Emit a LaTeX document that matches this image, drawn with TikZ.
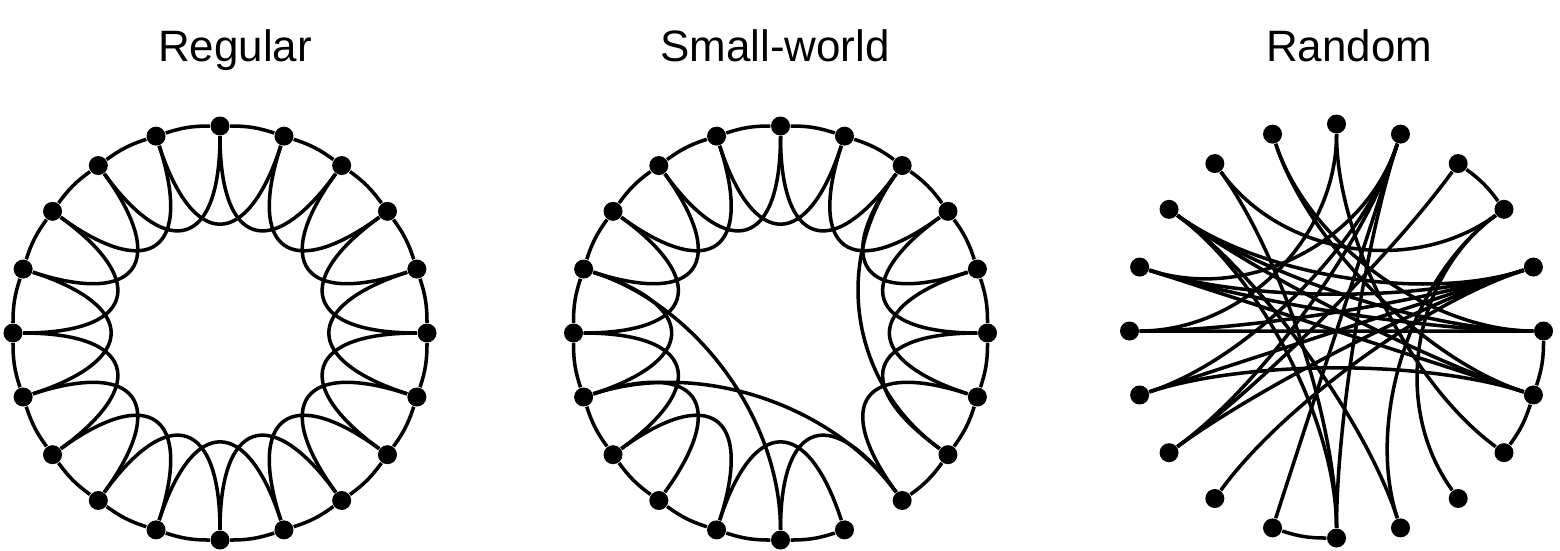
\documentclass[tikz,border=0pt]{standalone}
\usepackage{fontspec}
\setmainfont{Liberation Sans}
\usetikzlibrary{calc}

\tikzset{
  vertex/.style={circle,fill=black,inner sep=0pt,minimum size=0.19cm},
  edge/.style={line width=1pt},
  title/.style={font=\fontsize{12.5}{15}\selectfont,anchor=base}
}

\begin{document}
\begin{tikzpicture}
\useasboundingbox (0,0) rectangle (15.6,5.5);

% titles
\node[title] (treg) at (2.35,4.89) {Regular};
\node[title] (tsw) at (7.75,4.89) {Small-world};
\node[title] (trnd) at (13.49,4.89) {Random};

% centres of the three rings
\coordinate (rc) at (2.20,2.17);
\coordinate (sc) at (7.805,2.17);
\coordinate (nc) at (13.365,2.19);

% vertices, numbered clockwise from the top
\foreach \k in {0,...,19}{
  \node[vertex] (r\k) at ($(rc)+({90-18*\k}:2.07)$) {};
  \node[vertex] (s\k) at ($(sc)+({90-18*\k}:2.07)$) {};
  \node[vertex] (n\k) at ($(nc)+({90-18*\k}:2.07)$) {};
}

% regular ring
\foreach \k in {0,...,19}{
  \pgfmathtruncatemacro\a{mod(\k+1,20)}
  \pgfmathtruncatemacro\b{mod(\k+2,20)}
  \draw[edge] (r\k) to[bend left=9] (r\a);
  \draw[edge] (r\k) .. controls ($(r\k)!0.58!(rc)$) and ($(r\b)!0.58!(rc)$) .. (r\b);
}

% small-world ring
\foreach \k in {0,...,7,9,10,...,19}{
  \pgfmathtruncatemacro\a{mod(\k+1,20)}
  \draw[edge] (s\k) to[bend left=9] (s\a);
}
\foreach \k in {0,...,6,8,9,11,12,...,19}{
  \pgfmathtruncatemacro\b{mod(\k+2,20)}
  \draw[edge] (s\k) .. controls ($(s\k)!0.58!(sc)$) and ($(s\b)!0.58!(sc)$) .. (s\b);
}
\foreach \a/\b in {8/14,7/2,10/16}
  \draw[edge] (s\a) .. controls ($(s\a)!0.58!(sc)$) and ($(s\b)!0.58!(sc)$) .. (s\b);

% random graph
\foreach \a/\b in {2/3,5/6,6/7,10/11}
  \draw[edge] (n\a) to[bend left=9] (n\b);
\foreach \a/\b in {0/7,0/15,1/14,1/13,1/16,1/11,1/10,2/13,3/18,3/9,3/8,4/15,4/12,
    4/16,4/17,5/16,5/15,5/19,6/14,6/17,6/19,9/17,10/18,16/6,17/5,13/4,14/4,17/10}
  \draw[edge] (n\a) .. controls ($(n\a)!0.55!(nc)$) and ($(n\b)!0.55!(nc)$) .. (n\b);
\end{tikzpicture}
\end{document}
